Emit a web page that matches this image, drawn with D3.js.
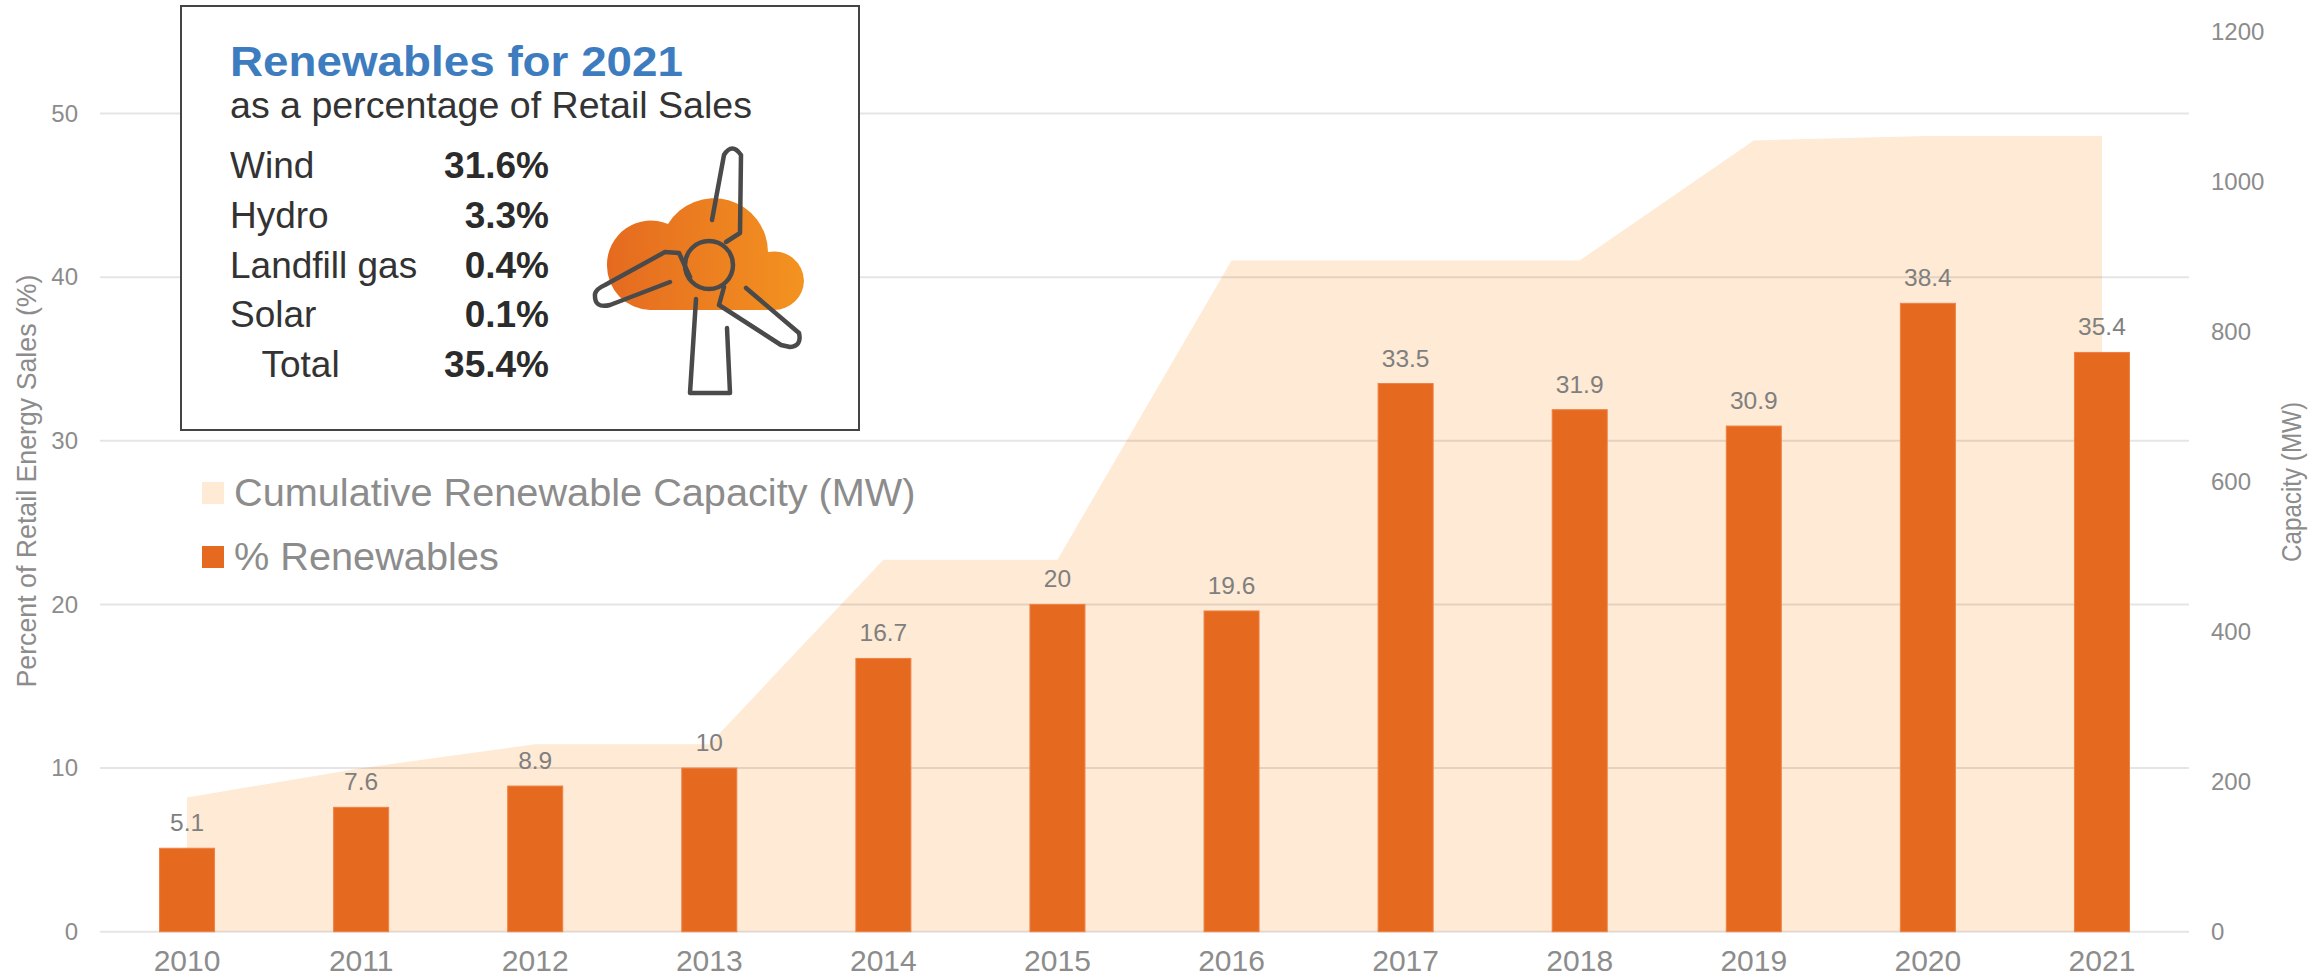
<!DOCTYPE html>
<html>
<head>
<meta charset="utf-8">
<script src="https://cdn.jsdelivr.net/npm/d3@7/dist/d3.min.js"></script>
<style>
  body { margin: 0; background: #fff; }
  text { font-family: "Liberation Sans", sans-serif; }
</style>
</head>
<body>
<div id="chart-area"></div>
<script>
// Data
// ****
const years = ["2010","2011","2012","2013","2014","2015","2016","2017","2018","2019","2020","2021"]
const percentRenewables = [5.1, 7.6, 8.9, 10, 16.7, 20, 19.6, 33.5, 31.9, 30.9, 38.4, 35.4]
const capacityMW = [179, 218, 250, 250, 496, 496, 895, 895, 895, 1055, 1061, 1061]
const leftTicks = [0, 10, 20, 30, 40, 50]
const rightTicks = [0, 200, 400, 600, 800, 1000, 1200]
const insetLabels = ["Wind", "Hydro", "Landfill gas", "Solar", "Total"]
const insetValues = ["31.6%", "3.3%", "0.4%", "0.1%", "35.4%"]
const legendLabels = ["Cumulative Renewable Capacity (MW)", "% Renewables"]

// Config
// ******
const width = 2320, height = 980
const plot = {left: 100, right: 2189, top: 31.7, bottom: 931.7}
const barColor = "#e56a20", areaColor = "#feead5", textColor = "#8c8c8c"

// Create SVG Canvas
// *****************
const svg = d3.select("#chart-area")
  .append("svg")
    .attr("width", width)
    .attr("height", height)
    .style("display", "block")

// Scales
const x = d3.scaleBand().domain(years).range([plot.left, plot.right]).paddingInner(0.684).paddingOuter(0.342)
const y = d3.scaleLinear().domain([0, 55]).range([plot.bottom, plot.top])
const yCap = d3.scaleLinear().domain([0, 1200]).range([plot.bottom, plot.top])
const cx = d => x(d) + x.bandwidth() / 2

// Capacity area
const area = d3.area()
  .x((d, i) => cx(years[i]))
  .y0(yCap(0))
  .y1(d => yCap(d))
svg.append("path")
  .datum(capacityMW)
  .attr("d", area)
  .attr("fill", areaColor)

// Gridlines, see-through so they show on the area
svg.append("g").selectAll("line").data(leftTicks).enter()
  .append("line")
    .attr("x1", plot.left)
    .attr("x2", plot.right)
    .attr("y1", d => y(d))
    .attr("y2", d => y(d))
    .attr("stroke", "rgba(0,0,0,0.1)")
    .attr("stroke-width", 2)

// Bars
svg.append("g").selectAll("rect").data(percentRenewables).enter()
  .append("rect")
    .attr("x", (d, i) => x(years[i]))
    .attr("y", d => y(d))
    .attr("width", x.bandwidth())
    .attr("height", d => y(0) - y(d))
    .attr("fill", barColor)
    .attr("stroke", "#ee8145")
    .attr("stroke-width", 1)

// Bar labels
svg.append("g").selectAll("text").data(percentRenewables).enter()
  .append("text")
    .attr("x", (d, i) => cx(years[i]))
    .attr("y", d => y(d) - 17)
    .attr("text-anchor", "middle")
    .attr("font-size", 24.5)
    .attr("fill", "#7f7f7f")
    .text(d => d)

// Axes
function styleAxis(sel, size) {
  sel.select(".domain").remove()
  sel.selectAll("line").remove()
  sel.selectAll("text").attr("font-size", size).attr("fill", textColor)
    .style("font-family", '"Liberation Sans", sans-serif')
}
svg.append("g")
  .attr("transform", "translate(" + (plot.left - 22) + ",0)")
  .call(d3.axisLeft(y).tickValues(leftTicks).tickSize(0).tickPadding(0))
  .call(styleAxis, 24)
svg.append("g")
  .attr("transform", "translate(2211,0)")
  .call(d3.axisRight(yCap).tickValues(rightTicks).tickFormat(d3.format("d")).tickSize(0).tickPadding(0))
  .call(styleAxis, 24)
svg.append("g")
  .attr("transform", "translate(0,950)")
  .call(d3.axisBottom(x).tickSize(0).tickPadding(0))
  .call(styleAxis, 30)

// Axis Labels
svg.append("text")
  .attr("transform", "translate(36,481) rotate(-90)")
  .attr("text-anchor", "middle")
  .attr("font-size", 27)
  .attr("fill", textColor)
  .attr("textLength", 413)
  .attr("lengthAdjust", "spacingAndGlyphs")
  .text("Percent of Retail Energy Sales (%)")
svg.append("text")
  .attr("transform", "translate(2301,482) rotate(-90)")
  .attr("text-anchor", "middle")
  .attr("font-size", 27)
  .attr("fill", textColor)
  .attr("textLength", 160)
  .attr("lengthAdjust", "spacingAndGlyphs")
  .text("Capacity (MW)")

// Legend
const legend = svg.append("g").selectAll("g").data(legendLabels).enter()
  .append("g")
    .attr("transform", (d, i) => "translate(202," + (482 + i * 64) + ")")
legend.append("rect")
  .attr("width", 22)
  .attr("height", 22)
  .attr("fill", (d, i) => i ? barColor : areaColor)
legend.append("text")
  .attr("x", 32)
  .attr("y", 24)
  .attr("font-size", 39.7)
  .attr("fill", textColor)
  .text(d => d)

// Inset
const inset = svg.append("g")
inset.append("rect")
  .attr("x", 181)
  .attr("y", 6)
  .attr("width", 678)
  .attr("height", 424)
  .attr("fill", "#fff")
  .attr("stroke", "#444")
  .attr("stroke-width", 2)

inset.append("text")
  .attr("x", 230).attr("y", 76)
  .attr("font-size", 43)
  .attr("font-weight", "bold")
  .attr("fill", "#3e7cc0")
  .attr("textLength", 453)
  .attr("lengthAdjust", "spacingAndGlyphs")
  .text("Renewables for 2021")
inset.append("text")
  .attr("x", 230).attr("y", 118)
  .attr("font-size", 37)
  .attr("fill", "#333")
  .attr("textLength", 522)
  .attr("lengthAdjust", "spacingAndGlyphs")
  .text("as a percentage of Retail Sales")

const rowY = d3.scalePoint().domain(insetLabels).range([178, 377])
inset.append("g").selectAll("text").data(insetLabels).enter()
  .append("text")
    .attr("x", d => d === "Total" ? 261.5 : 230)
    .attr("y", d => rowY(d))
    .attr("font-size", 37)
    .attr("fill", "#333")
    .text(d => d)
inset.append("g").selectAll("text").data(insetValues).enter()
  .append("text")
    .attr("x", 549)
    .attr("y", (d, i) => rowY(insetLabels[i]))
    .attr("text-anchor", "end")
    .attr("font-size", 37)
    .attr("font-weight", "bold")
    .attr("fill", "#2b2b2b")
    .text(d => d)

// Cloud and turbine icon
const grad = svg.append("defs").append("linearGradient").attr("id", "cloudFill")
grad.append("stop").attr("offset", "0%").attr("stop-color", "#e56a20")
grad.append("stop").attr("offset", "100%").attr("stop-color", "#f39320")
inset.append("path")
  .attr("d", "M650,310 A44,44 0 0 1 607,266 A44,44 0 0 1 668,224 A54,54 0 0 1 768,252 A30,30 0 0 1 804,281 A30,30 0 0 1 774,310 Z")
  .attr("fill", "url(#cloudFill)")
const turbine = inset.append("g")
  .attr("fill", "none")
  .attr("stroke", "#4a4a4a")
  .attr("stroke-width", 4.5)
  .attr("stroke-linecap", "round")
  .attr("stroke-linejoin", "round")
turbine.append("circle").attr("cx", 709).attr("cy", 265).attr("r", 24)
turbine.append("path").attr("d", "M712,220 L724,155 Q732,142 741,155 L740,233 L726,242")
turbine.append("path").attr("d", "M670,282 L610,305 Q594,309 595,294 Q596,289 605,285 L665,252 L679,253 L690,277")
turbine.append("path").attr("d", "M746,288 L799,333 Q802,346 790,347 L781,345 L719,305 L724,287")
turbine.append("path").attr("d", "M696,299 L690,393 L730,393 L727,328")
</script>
</body>
</html>
